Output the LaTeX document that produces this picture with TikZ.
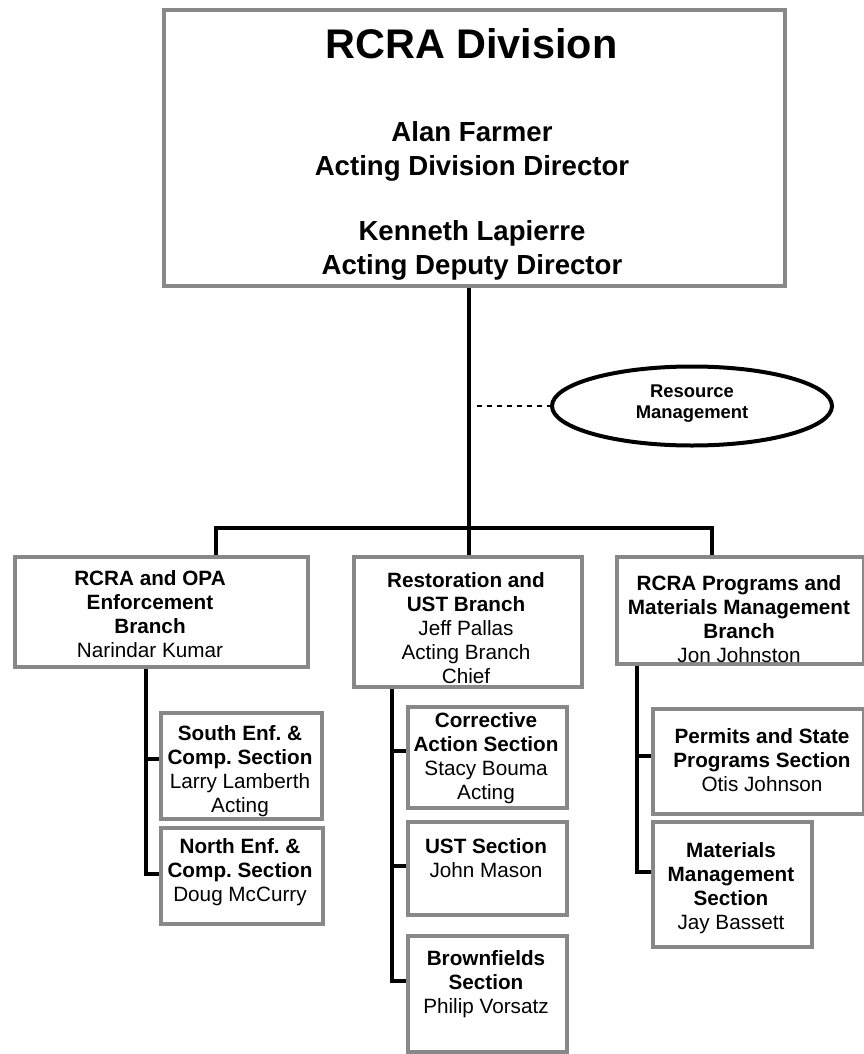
\documentclass[tikz,border=0pt]{standalone}
\usepackage{fontspec}
\setmainfont{Liberation Sans}
\usetikzlibrary{shapes.geometric}
\definecolor{boxgray}{RGB}{136,136,136}
\pgfdeclarelayer{background}
\pgfsetlayers{background,main}
\frenchspacing
\tikzset{
  orgbox/.style={draw=boxgray, line width=4pt, fill=white, rectangle, inner sep=0pt},
  conn/.style={draw=black, line width=4.5pt, line join=miter},
  txt/.style={anchor=base, align=center, inner sep=0pt, font=\fontsize{20.7}{24}\selectfont},
  dashconn/.style={draw=black, line width=2pt, dash pattern=on 5pt off 5pt},
}
\newcommand\orgrect[5]{%
  \node[orgbox, anchor=north west, minimum width={(#4-#2)*1pt}, minimum height={(#5-#3)*1pt}] (#1) at (#2,#3) {};}
\begin{document}
\begin{tikzpicture}[x=1pt, y=-1pt]
\useasboundingbox (0,0) rectangle (864,1054);
% boxes
\orgrect{div}{162}{8}{783}{284}
\orgrect{lbr}{13}{555}{306}{665}
\orgrect{mbr}{352}{555}{580}{685}
\orgrect{rbr}{615}{555}{862}{662}
\orgrect{south}{159}{711}{320}{817}
\orgrect{north}{159}{826}{321}{922}
\orgrect{corr}{406}{705}{565}{806}
\orgrect{ust}{406}{820}{565}{913}
\orgrect{brown}{406}{934}{565}{1050}
\orgrect{perm}{651}{707}{862}{812}
\orgrect{mat}{651}{820}{810}{945}
\node[ellipse, draw=black, line width=4pt, fill=white, minimum width=280pt, minimum height=79pt, inner sep=0pt] (res) at (692,406) {};
% texts (anchor = baseline of the last line)
\node[anchor=base, inner sep=0pt, font=\bfseries\fontsize{41.4}{48}\selectfont] (divT1) at (471.5,59) {RCRA Division};
\node[anchor=base, align=center, inner sep=0pt, font=\bfseries\fontsize{27.6}{33}\selectfont] (divT2) at (472,175) {Alan Farmer\\Acting Division Director};
\node[anchor=base, align=center, inner sep=0pt, font=\bfseries\fontsize{27.6}{33.5}\selectfont] (divT3) at (472,274) {Kenneth Lapierre\\Acting Deputy Director};
\node[anchor=base, align=center, inner sep=0pt, font=\bfseries\fontsize{18.4}{21}\selectfont] (resT) at (692,418) {Resource\\Management};
\node[txt] (lbrT) at (150,657) {\textbf{RCRA and OPA}\\\textbf{Enforcement}\\\textbf{Branch}\\Narindar Kumar};
\node[txt] (mbrT) at (466,683) {\textbf{Restoration and}\\\textbf{UST Branch}\\Jeff Pallas\\Acting Branch\\Chief};
\node[txt] (rbrT) at (739,662) {\textbf{RCRA Programs and}\\\textbf{Materials Management}\\\textbf{Branch}\\Jon Johnston};
\node[txt] (southT) at (240,812) {\textbf{South Enf. \&}\\\textbf{Comp. Section}\\Larry Lamberth\\Acting};
\node[txt] (northT) at (240,901) {\textbf{North Enf. \&}\\\textbf{Comp. Section}\\Doug McCurry};
\node[txt] (corrT) at (486,799) {\textbf{Corrective}\\\textbf{Action Section}\\Stacy Bouma\\Acting};
\node[txt] (ustT) at (486,877) {\textbf{UST Section}\\John Mason};
\node[txt] (brownT) at (486,1013) {\textbf{Brownfields}\\\textbf{Section}\\Philip Vorsatz};
\node[txt] (permT) at (762,791) {\textbf{Permits and State}\\\textbf{Programs Section}\\Otis Johnson};
\node[txt] (matT) at (731,929) {\textbf{Materials}\\\textbf{Management}\\\textbf{Section}\\Jay Bassett};
% connectors
\coordinate (barL) at (216,528);
\coordinate (barM) at (469,528);
\coordinate (barR) at (712,528);
\coordinate (dashEnd) at (477,406);
\coordinate (ltS) at (146,759);
\coordinate (ltN) at (146,874);
\coordinate (mtC) at (392,751);
\coordinate (mtU) at (392,866);
\coordinate (mtB) at (392,981);
\coordinate (rtP) at (637,756);
\coordinate (rtM) at (637,872);
\begin{pgfonlayer}{background}
\draw[conn] (div.south -| barM) -- (barM |- mbr.north);
\draw[conn] (barL |- lbr.north) -- (barL) -- (barR) -- (barR |- rbr.north);
\draw[dashconn] (dashEnd) -- (res.west);
\draw[conn] (lbr.south -| ltN) -- (ltN) -- (ltN -| north.west);
\draw[conn] (ltS) -- (ltS -| south.west);
\draw[conn] (mbr.south -| mtB) -- (mtB) -- (mtB -| brown.west);
\draw[conn] (mtC) -- (mtC -| corr.west);
\draw[conn] (mtU) -- (mtU -| ust.west);
\draw[conn] (rbr.south -| rtM) -- (rtM) -- (rtM -| mat.west);
\draw[conn] (rtP) -- (rtP -| perm.west);
\end{pgfonlayer}
\end{tikzpicture}
\end{document}
